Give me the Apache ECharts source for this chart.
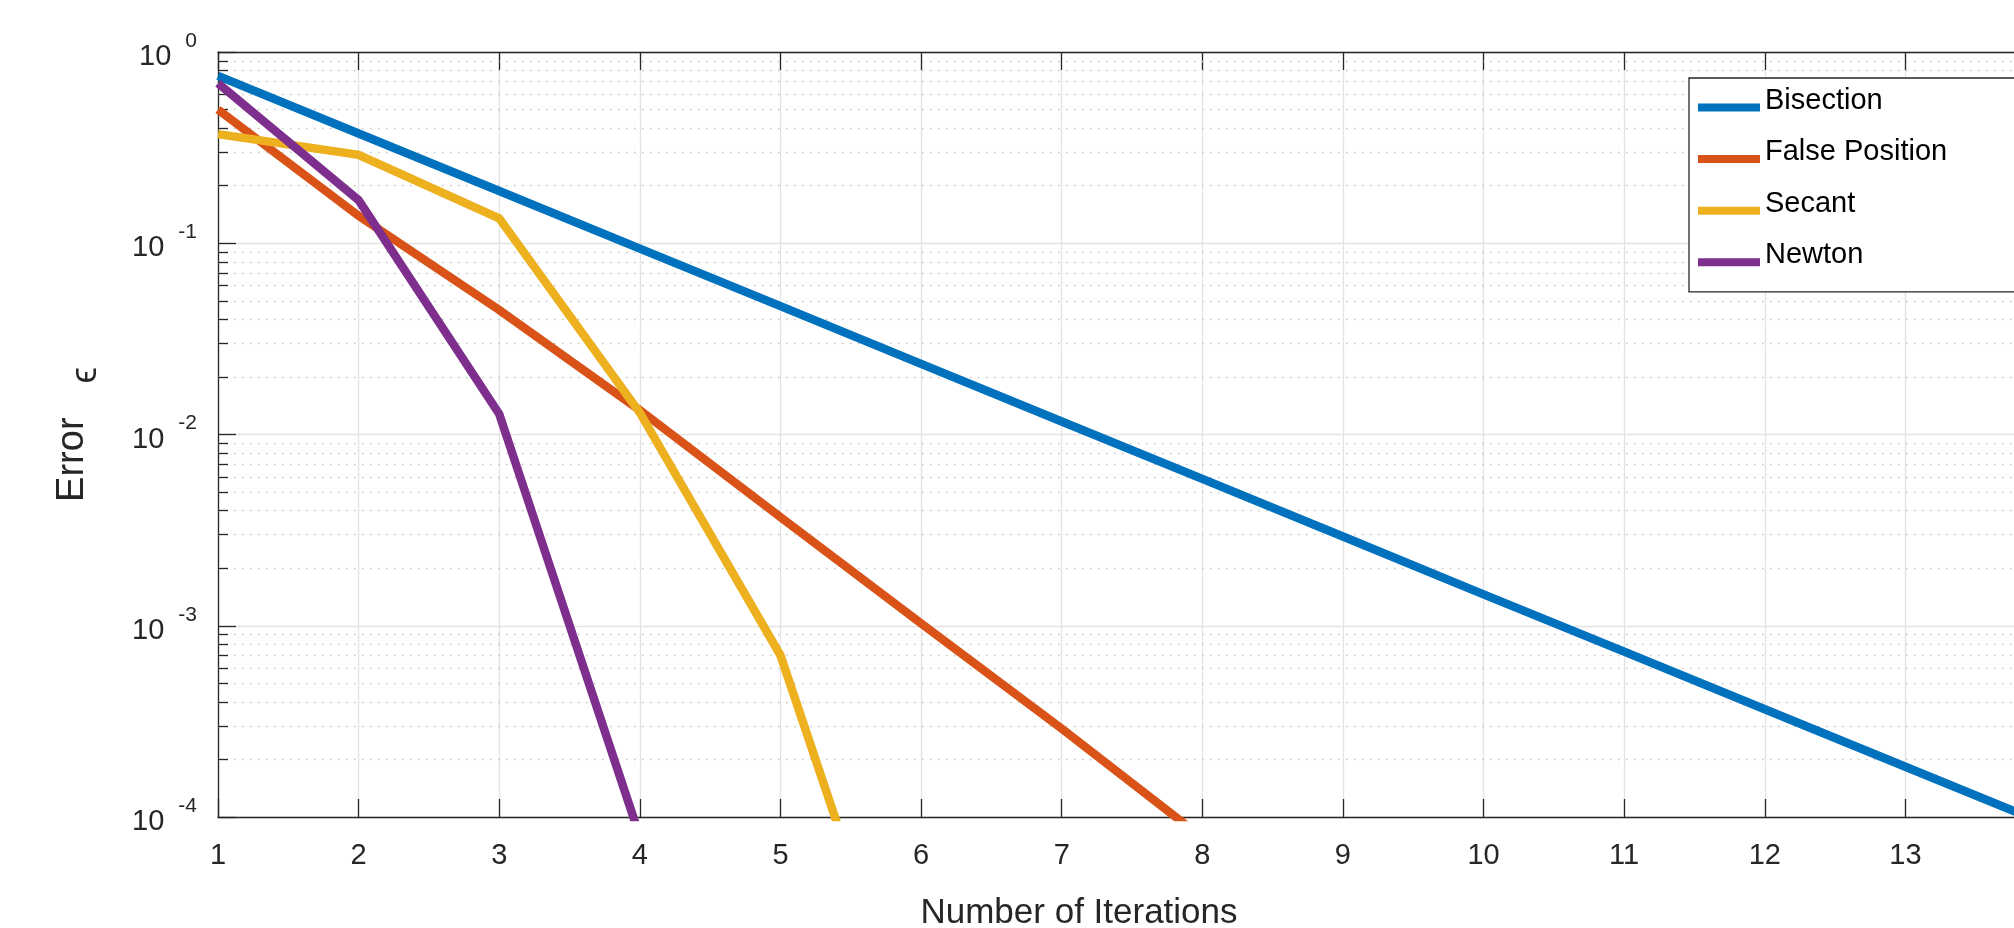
<!DOCTYPE html>
<html><head><meta charset="utf-8">
<script src="https://cdn.jsdelivr.net/npm/echarts@6/dist/echarts.min.js"></script>
<style>html,body{margin:0;padding:0;background:#fff}#c{width:2014px;height:928px}</style>
</head><body><div id="c"></div>
<script>
// ---- data ----
const iterations = [1, 2, 3, 4, 5, 6, 7, 8, 9, 10, 11, 12, 13, 14];
const bisection = [0.75, 0.375, 0.1875, 0.0938, 0.0469, 0.0234, 0.0117, 0.00586, 0.00293, 0.00146, 0.000732, 0.000366, 0.000183, 0.0000916];
const falsePosition = [0.50, 0.139, 0.0448, 0.0134, 0.0037, 0.00103, 0.00029, 0.000078, 0.000022];
const secant = [0.372, 0.29, 0.135, 0.0130, 0.0007, 0.0000046];
const newton = [0.687, 0.168, 0.0128, 0.000079];
const seriesNames = ['Bisection', 'False Position', 'Secant', 'Newton'];
const seriesColors = ['#0072BD', '#D95319', '#EDB120', '#7E2F8E'];
const xRange = [1, 14];
const yRange = [0.0001, 1];
const yDecades = [0.0001, 0.001, 0.01, 0.1];
const minorMultipliers = [2, 3, 4, 5, 6, 7, 8, 9];
const xLabel = 'Number of Iterations';
const yLabel = 'Error';
const ySymbol = 'ϵ';

const FONT = '"Liberation Sans", Arial, "DejaVu Sans", sans-serif';
const INK = '#262626';

function pairs(vals) { return vals.map((v, i) => [iterations[i], v]); }
const allSeries = [bisection, falsePosition, secant, newton];

// minor log tick values (2..9 x each decade)
const minorValues = [];
yDecades.forEach(d => minorMultipliers.forEach(m => minorValues.push(+(m * d).toPrecision(3))));
const minorTickLen = 10 / 140.6; // tick length in x-units

const gridLines = minorValues.map(v => [
  {coord: [xRange[0], v], lineStyle: {color: '#c4c4c4', width: 1.3, type: [1.5, 6.5]}},
  {coord: [xRange[1], v]}
]);
const minorTicks = minorValues.map(v => [
  {coord: [xRange[0], v], lineStyle: {color: INK, width: 1.3, type: 'solid'}},
  {coord: [xRange[0] + minorTickLen, v]}
]);

const chart = echarts.init(document.getElementById('c'), null, {renderer: 'canvas'});
chart.setOption({
  animation: false,
  backgroundColor: '#ffffff',
  grid: {left: 218, top: 52, width: 1828, height: 765, containLabel: false, outerBoundsMode: 'none'},
  legend: {
    orient: 'vertical',
    left: 1689, top: 78,
    padding: [8, 140, 8, 9],
    itemGap: 8.6,
    itemWidth: 62, itemHeight: 8,
    icon: 'rect',
    z: 10,
    backgroundColor: '#ffffff',
    borderColor: INK, borderWidth: 1.3,
    formatter: function (name) { return '{t|' + name + '}'; },
    textStyle: {
      fontFamily: FONT, fontSize: 29, color: '#000',
      rich: {t: {fontFamily: FONT, fontSize: 29, color: '#000', lineHeight: 30, padding: [0, 0, 14, 0]}}
    },
    data: seriesNames
  },
  xAxis: [{
    type: 'value', min: xRange[0], max: xRange[1], interval: 1,
    position: 'bottom',
    name: xLabel, nameLocation: 'middle', nameGap: 79,
    nameTextStyle: {fontFamily: FONT, fontSize: 35, color: INK, padding: [0, 106, 0, 0]},
    axisLine: {show: true, lineStyle: {color: INK, width: 1.3}},
    axisTick: {show: true, inside: true, length: 18, lineStyle: {color: INK, width: 1.3}},
    axisLabel: {fontFamily: FONT, fontSize: 29, color: INK, margin: 24},
    splitLine: {show: true, lineStyle: {color: '#e3e3e3', width: 1.3}}
  }, {
    type: 'value', min: xRange[0], max: xRange[1], interval: 1,
    position: 'top',
    axisLine: {show: true, lineStyle: {color: INK, width: 1.3}},
    axisTick: {show: true, inside: true, length: 18, lineStyle: {color: INK, width: 1.3}},
    axisLabel: {show: false},
    splitLine: {show: false}
  }],
  yAxis: [{
    type: 'log', logBase: 10, min: yRange[0], max: yRange[1],
    name: '{a|' + yLabel + '}{s|' + ySymbol + '}',
    nameLocation: 'middle', nameGap: 124,
    nameTextStyle: {
      fontFamily: FONT, color: INK,
      rich: {
        a: {fontFamily: FONT, fontSize: 38, color: INK, lineHeight: 40, verticalAlign: 'top'},
        s: {fontFamily: FONT, fontSize: 37, color: INK, lineHeight: 40, verticalAlign: 'top', padding: [13, 0, 0, 34]}
      }
    },
    axisLine: {show: true, lineStyle: {color: INK, width: 1.3}},
    axisTick: {show: true, inside: true, length: 18, lineStyle: {color: INK, width: 1.3}},
    minorTick: {show: false},
    axisLabel: {
      margin: 21,
      padding: [10, 0, 0, 0],
      formatter: function (v) {
        const e = Math.round(Math.log10(v));
        return '{b|10}{e|' + e + '}';
      },
      rich: {
        b: {fontFamily: FONT, fontSize: 29, color: INK, lineHeight: 30},
        e: {fontFamily: FONT, fontSize: 21, color: INK, lineHeight: 30, padding: [0, 0, 32, 14]}
      }
    },
    splitLine: {show: true, lineStyle: {color: '#e3e3e3', width: 1.3}},
    minorSplitLine: {show: false}
  }],
  series: [{
    name: '_grid',
    type: 'line',
    data: [],
    z: 1,
    silent: true,
    markLine: {
      z: 1,
      silent: true, symbol: ['none', 'none'], label: {show: false}, animation: false,
      emphasis: {disabled: true},
      data: gridLines.concat(minorTicks)
    }
  }].concat(allSeries.map((vals, i) => ({
    name: seriesNames[i],
    type: 'line',
    data: pairs(vals),
    symbol: 'none',
    clip: true,
    z: 3,
    color: seriesColors[i],
    itemStyle: {color: seriesColors[i]},
    lineStyle: {color: seriesColors[i], width: 8.5, join: 'miter'}
  })))
});
</script></body></html>
